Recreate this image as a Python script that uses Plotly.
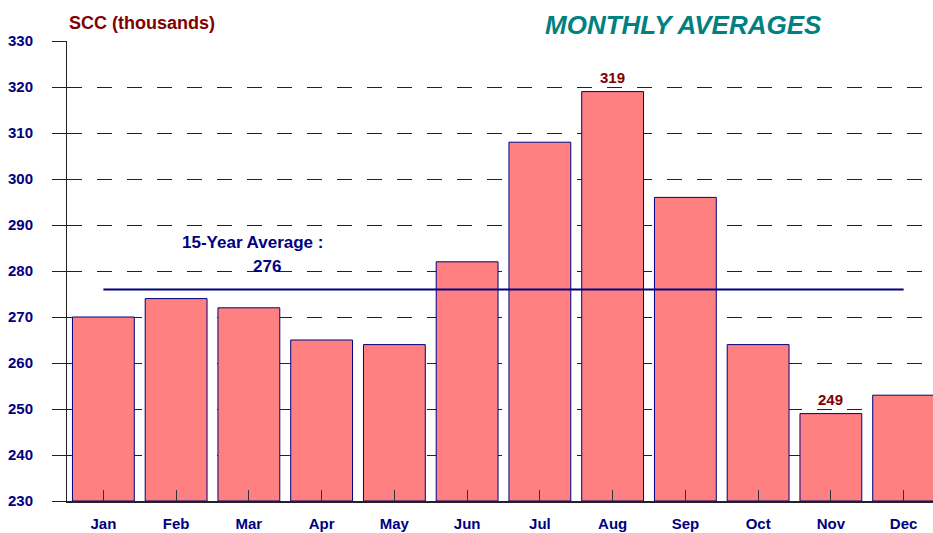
import plotly.graph_objects as go

months = ["Jan", "Feb", "Mar", "Apr", "May", "Jun", "Jul", "Aug", "Sep", "Oct", "Nov", "Dec"]
scc = [270, 274, 272, 265, 264, 282, 308, 319, 296, 264, 249, 253]
avg_15yr = 276
y_ticks = [230, 240, 250, 260, 270, 280, 290, 300, 310, 320, 330]

NAVY = "#000080"
DARKRED = "#800000"
TEAL = "#008080"
FONT = "Liberation Sans, Arial, sans-serif"

# body margin removed via post_script; plot area: x 67..940 (right part clipped by window), y 41..501
L, T, R, B = 67, 41, 0, 32
W, H = 940, 533
PW, PH = W - L - R, H - T - B

fig = go.Figure()
fig.add_trace(go.Bar(
    x=months, y=[v - 230 for v in scc], base=230,
    marker=dict(color="#FF8080", line=dict(color=NAVY, width=1)),
    width=0.85, hoverinfo="skip", showlegend=False,
))
fig.add_trace(go.Scatter(
    x=[months[0], months[-1]], y=[avg_15yr, avg_15yr], mode="lines",
    line=dict(color=NAVY, width=2), hoverinfo="skip", showlegend=False,
))

# labels on max and min bars
imax = scc.index(max(scc))
imin = scc.index(min(scc))
for i in (imax, imin):
    fig.add_annotation(x=months[i], y=scc[i], text=f"<b>{scc[i]}</b>", showarrow=False,
                       yanchor="bottom", yshift=4,
                       font=dict(family=FONT, size=15, color=DARKRED))

fig.add_annotation(x=2.05, y=avg_15yr, xref="x", yref="y", showarrow=False,
                   text="<b>15-Year Average :</b>", yanchor="bottom", yshift=35,
                   font=dict(family=FONT, size=17, color=NAVY))
fig.add_annotation(x=2.25, y=avg_15yr, xref="x", yref="y", showarrow=False,
                   text=f"<b>{avg_15yr}</b>", yanchor="bottom", yshift=11,
                   font=dict(family=FONT, size=17, color=NAVY))

fig.add_annotation(x=0, y=1 + (41 - 23) / PH, xref="paper", yref="paper",
                   xanchor="left", yanchor="middle",
                   showarrow=False, text="<b>SCC (thousands)</b>",
                   font=dict(family=FONT, size=18, color=DARKRED))
fig.add_annotation(x=(683 - 67) / PW, y=1 + (41 - 25) / PH, xref="paper", yref="paper",
                   xanchor="center", yanchor="middle", showarrow=False,
                   text="<b><i>MONTHLY AVERAGES</i></b>",
                   font=dict(family=FONT, size=26, color=TEAL))

fig.update_layout(
    width=W, height=H,
    margin=dict(l=L, r=R, t=T, b=B, autoexpand=False),
    paper_bgcolor="white", plot_bgcolor="white",
    font=dict(family=FONT),
    xaxis=dict(
        type="category", range=[-0.5, 11.5], automargin=False,
        showline=True, linecolor="#222222", linewidth=1.5,
        ticks="inside", ticklen=11, tickcolor="#333333", tickwidth=1,
        showgrid=False, ticklabelstandoff=8,
        tickfont=dict(family=FONT, size=15, color=NAVY, weight="bold"),
    ),
    yaxis=dict(
        range=[230, 330], tickvals=y_ticks, automargin=False,
        showline=True, linecolor="#222222", linewidth=1,
        ticks="outside", ticklen=14, tickcolor="#222222",
        showgrid=True, gridcolor="#222222", gridwidth=1, griddash="15px,15px",
        zeroline=False, ticklabelstandoff=16,
        tickfont=dict(family=FONT, size=15, color=NAVY, weight="bold"),
    ),
)

fig.write_html(
    "out.html",
    config={"displayModeBar": False},
    post_script="document.body.style.margin='0';document.body.style.overflow='hidden';",
)
